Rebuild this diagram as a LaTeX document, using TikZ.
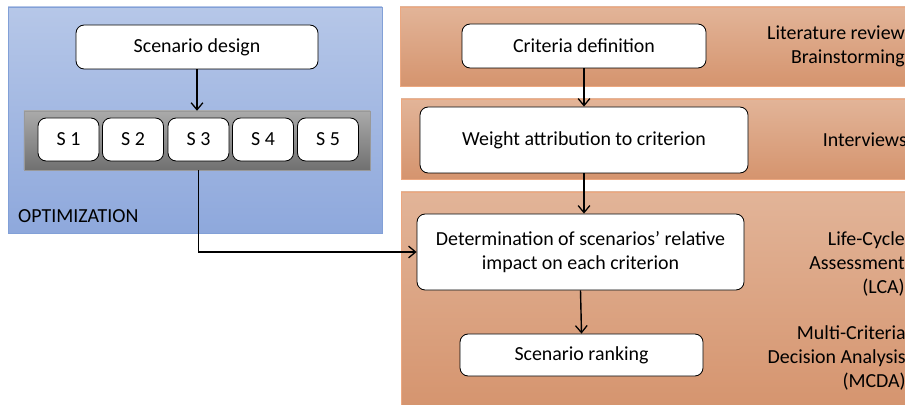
\documentclass[tikz,border=0pt]{standalone}
\usepackage{fontspec}
\setmainfont{Carlito}
\usetikzlibrary{positioning,arrows.meta}
\definecolor{optTop}{RGB}{182,199,232}
\definecolor{optBot}{RGB}{142,168,220}
\definecolor{optLine}{RGB}{130,160,215}
\definecolor{orTop}{RGB}{226,180,152}
\definecolor{orBot}{RGB}{213,148,110}
\definecolor{orLine}{RGB}{236,168,128}
\definecolor{barTop}{RGB}{170,170,170}
\definecolor{barBot}{RGB}{112,112,112}
\tikzset{
  stepbox/.style={draw=black,line width=0.7pt,fill=white,rounded corners=7pt,inner sep=0pt,align=center,
    font=\fontsize{17}{20.5}\selectfont},
  scbox/.style={stepbox,minimum width=1.83cm,minimum height=1.29cm},
  toolnote/.style={anchor=east,align=right,inner sep=0pt,font=\fontsize{17}{20.5}\selectfont},
  flow/.style={-{Straight Barb[length=6pt,width=10pt,line width=1.1pt]},line width=1.2pt},
}
\begin{document}
\begin{tikzpicture}[x=0.03cm,y=-0.03cm]
\useasboundingbox (0,0) rectangle (905,405);
% panels
\draw[optLine,top color=optTop,bottom color=optBot] (8,7) rectangle (382,233);
\draw[orLine,top color=orTop,bottom color=orBot] (400,7) rectangle (910,86);
\draw[orLine,top color=orTop,bottom color=orBot] (401,99) rectangle (910,179);
\draw[orLine,top color=orTop,bottom color=orBot] (401,192) rectangle (910,410);
\node[anchor=west,inner sep=0pt,font=\fontsize{17}{20}\selectfont] (optlabel) at (18,216) {OPTIMIZATION};
% optimization side
\node[stepbox,minimum width=7.26cm,minimum height=1.32cm] (design) at (197,47) {Scenario design};
\node[draw=gray!80,top color=barTop,bottom color=barBot,minimum width=10.38cm,minimum height=1.77cm,inner sep=0pt] (bar) at (197,140.5) {};
\node[scbox] (s1) at (68.5,139.5) {S 1};
\node[scbox] (s2) at (133,139.5) {S 2};
\node[scbox] (s3) at (198.5,139.5) {S 3};
\node[scbox] (s4) at (263,139.5) {S 4};
\node[scbox] (s5) at (328,139.5) {S 5};
% evaluation side
\node[stepbox,minimum width=7.32cm,minimum height=1.32cm] (crit) at (584,46) {Criteria definition};
\node[stepbox,minimum width=9.84cm,minimum height=1.98cm] (weight) at (584,140) {Weight attribution to criterion};
\node[stepbox,minimum width=9.81cm,minimum height=2.28cm] (determ) at (580.5,252) {Determination of scenarios’ relative\\impact on each criterion};
\node[stepbox,minimum width=7.29cm,minimum height=1.26cm] (rank) at (581.5,355) {Scenario ranking};
% methods
\node[toolnote] (litrev) at (905,46.5) {Literature review\\Brainstorming};
\node[toolnote] (interv) at (907,140) {Interviews};
\node[toolnote] (lca) at (905,264) {Life-Cycle\\Assessment\\(LCA)};
\node[toolnote] (mcda) at (906,358) {Multi-Criteria\\Decision Analysis\\(MCDA)};
% connectors
\coordinate (s3out) at (s3.south |- bar.south);
\draw[flow] (design.south) -- (design.south |- bar.north);
\draw[flow] (s3out) |- (determ.west);
\draw[flow] (crit.south) -- (weight.north);
\draw[flow] (weight.south) -- (weight.south |- determ.north);
\draw[flow] (determ.south) -- (rank.north);
\end{tikzpicture}
\end{document}
